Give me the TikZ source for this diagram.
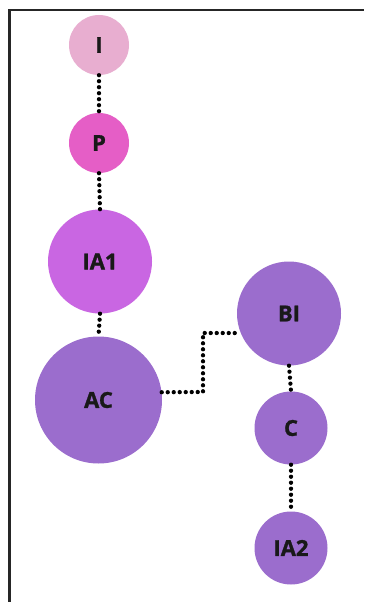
\documentclass[tikz,border=0pt]{standalone}
\usepackage{fontspec}
\setmainfont{Open Sans}[BoldFeatures={FakeBold=1.3}]
\definecolor{cI}{HTML}{E8AED0}
\definecolor{cP}{HTML}{E55EC6}
\definecolor{cIA}{HTML}{C966E2}
\definecolor{cV}{HTML}{9B6DCD}
\begin{document}
\begin{tikzpicture}[x=1pt,y=-1pt,
  bub/.style={circle,inner sep=0pt,font=\bfseries\fontsize{22}{24}\selectfont,text=black!90},
  dotline/.style={line width=4.3pt,line cap=round,dash pattern=on 0pt off 6pt,black}]
\useasboundingbox (0,0) rectangle (364,602);
\fill[white] (0,0) rectangle (364,602);
\draw[line width=2.2pt,black!85] (9.5,602) -- (9.5,10) -- (364,10);
\node[bub,fill=cI,minimum size=60pt] (I) at (99,45) {I};
\node[bub,fill=cP,minimum size=60pt] (P) at (99,143) {P};
\node[bub,fill=cIA,minimum size=104pt] (IA1) at (100,261.5) {IA1};
\node[bub,fill=cV,minimum size=127pt] (AC) at (98.5,400) {AC};
\node[bub,fill=cV,minimum size=104pt] (BI) at (289,313.5) {BI};
\node[bub,fill=cV,minimum size=73pt] (C) at (291,428) {C};
\node[bub,fill=cV,minimum size=73pt] (IA2) at (291,548) {IA2};
\coordinate (k1) at (203,392);
\coordinate (k2) at (203,333);
\draw[dotline] (I.south) -- (P.north);
\draw[dotline] (P.south) -- (IA1.north);
\draw[dotline] (IA1.south) -- (AC.north);
\draw[dotline] (BI.south) -- (C.north);
\draw[dotline] (C.south) -- (IA2.north);
\draw[dotline] (AC.7) -- (k1) -- (k2) -- (BI.202);
\end{tikzpicture}
\end{document}
